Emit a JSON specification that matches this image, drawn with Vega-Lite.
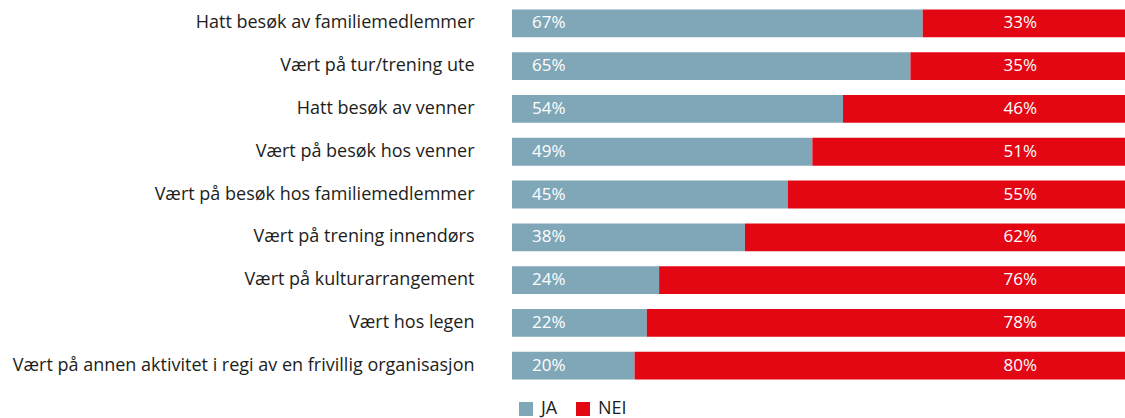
{
  "$schema": "https://vega.github.io/schema/vega-lite/v6.json",
  "width": 613,
  "height": 385,
  "autosize": {"type": "none"},
  "padding": {"left": 512, "top": 2, "right": 0, "bottom": 31},
  "background": "white",
  "config": {"view": {"stroke": null}, "font": "Open Sans"},
  "data": {"values": [
    {"aktivitet": "Hatt besøk av familiemedlemmer", "svar": "JA", "andel": 0.67},
    {"aktivitet": "Hatt besøk av familiemedlemmer", "svar": "NEI", "andel": 0.33},
    {"aktivitet": "Vært på tur/trening ute", "svar": "JA", "andel": 0.65},
    {"aktivitet": "Vært på tur/trening ute", "svar": "NEI", "andel": 0.35},
    {"aktivitet": "Hatt besøk av venner", "svar": "JA", "andel": 0.54},
    {"aktivitet": "Hatt besøk av venner", "svar": "NEI", "andel": 0.46},
    {"aktivitet": "Vært på besøk hos venner", "svar": "JA", "andel": 0.49},
    {"aktivitet": "Vært på besøk hos venner", "svar": "NEI", "andel": 0.51},
    {"aktivitet": "Vært på besøk hos familiemedlemmer", "svar": "JA", "andel": 0.45},
    {"aktivitet": "Vært på besøk hos familiemedlemmer", "svar": "NEI", "andel": 0.55},
    {"aktivitet": "Vært på trening innendørs", "svar": "JA", "andel": 0.38},
    {"aktivitet": "Vært på trening innendørs", "svar": "NEI", "andel": 0.62},
    {"aktivitet": "Vært på kulturarrangement", "svar": "JA", "andel": 0.24},
    {"aktivitet": "Vært på kulturarrangement", "svar": "NEI", "andel": 0.76},
    {"aktivitet": "Vært hos legen", "svar": "JA", "andel": 0.22},
    {"aktivitet": "Vært hos legen", "svar": "NEI", "andel": 0.78},
    {"aktivitet": "Vært på annen aktivitet i regi av en frivillig organisasjon", "svar": "JA", "andel": 0.20},
    {"aktivitet": "Vært på annen aktivitet i regi av en frivillig organisasjon", "svar": "NEI", "andel": 0.80}
  ]},
  "encoding": {
    "y": {
      "field": "aktivitet", "type": "nominal", "sort": null, "title": null,
      "scale": {"paddingInner": 0.35, "paddingOuter": 0.175},
      "axis": {"domain": false, "ticks": false, "labelFontSize": 18, "labelColor": "#1d1d1b", "labelPadding": 38, "labelLimit": 600, "labelFont": "Open Sans"}
    }
  },
  "layer": [
    {
      "mark": {"type": "bar"},
      "encoding": {
        "x": {"field": "andel", "type": "quantitative", "stack": "zero", "scale": {"domain": [0, 1]}, "axis": null},
        "color": {
          "field": "svar", "type": "nominal",
          "scale": {"domain": ["JA", "NEI"], "range": ["#7fa7b8", "#e30613"]},
          "legend": {
            "title": null, "orient": "none", "direction": "horizontal",
            "legendX": 5, "legendY": 398,
            "symbolType": "square", "symbolSize": 196, "symbolStrokeWidth": 0, "symbolOpacity": 1,
            "labelFontSize": 18, "labelColor": "#1d1d1b", "labelOffset": 6, "columnPadding": 16
          }
        },
        "order": {"field": "svar", "sort": "ascending"}
      }
    },
    {
      "transform": [{"filter": "datum.svar === 'JA'"}],
      "mark": {"type": "text", "align": "left", "baseline": "middle", "dx": 20, "color": "white", "fontSize": 17},
      "encoding": {
        "x": {"datum": 0, "type": "quantitative"},
        "text": {"field": "andel", "type": "quantitative", "format": ".0%"}
      }
    },
    {
      "transform": [{"filter": "datum.svar === 'NEI'"}],
      "mark": {"type": "text", "align": "right", "baseline": "middle", "dx": -88, "color": "white", "fontSize": 17},
      "encoding": {
        "x": {"datum": 1, "type": "quantitative"},
        "text": {"field": "andel", "type": "quantitative", "format": ".0%"}
      }
    }
  ]
}
